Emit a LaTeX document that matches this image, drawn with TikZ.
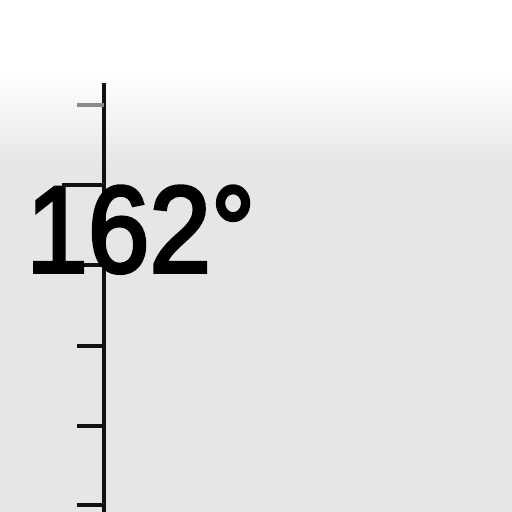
\documentclass[tikz,border=0pt]{standalone}
\usepackage{fontspec}
\setmainfont{Liberation Sans}
\newfontfamily\dialfont[FakeBold=3]{Liberation Sans}
\usepackage{xcolor}
\usetikzlibrary{positioning}
\definecolor{dialgray}{HTML}{E6E6E6}
\definecolor{dialink}{HTML}{111111}
\definecolor{fadeink}{HTML}{8A8A8A}

\begin{document}
\begin{tikzpicture}[x=0.02cm,y=-0.02cm]

\tikzset{
t/.style={draw=dialink,line width=2pt},
s/.style={draw=dialink,line width=2.2pt},
lbl/.style={
    font=\dialfont\fontsize{70}{70}\selectfont,
    text=black,
    inner sep=0pt,
    anchor=base west
}
}

% background
\useasboundingbox (0,0) rectangle (512,512);
\fill[white] (0,0) rectangle (512,75);
\shade[top color=white,bottom color=dialgray] (0,75) rectangle (512,165);
\fill[dialgray] (0,165) rectangle (512,512);

% scale
\draw[s] (104,83) -- (104,512);
\draw[t,draw=fadeink] (77,105) -- (104,105);
\draw[t] (62,185) -- (104,185);
\draw[t] (77,265) -- (104,265);
\draw[t] (77,346) -- (104,346);
\draw[t] (77,426) -- (104,426);
\draw[t] (77,505) -- (104,505);

% reading
\node[lbl] (reading) at (26,272) {\scalebox{0.9}[1]{162°}};

\end{tikzpicture}
\end{document}
